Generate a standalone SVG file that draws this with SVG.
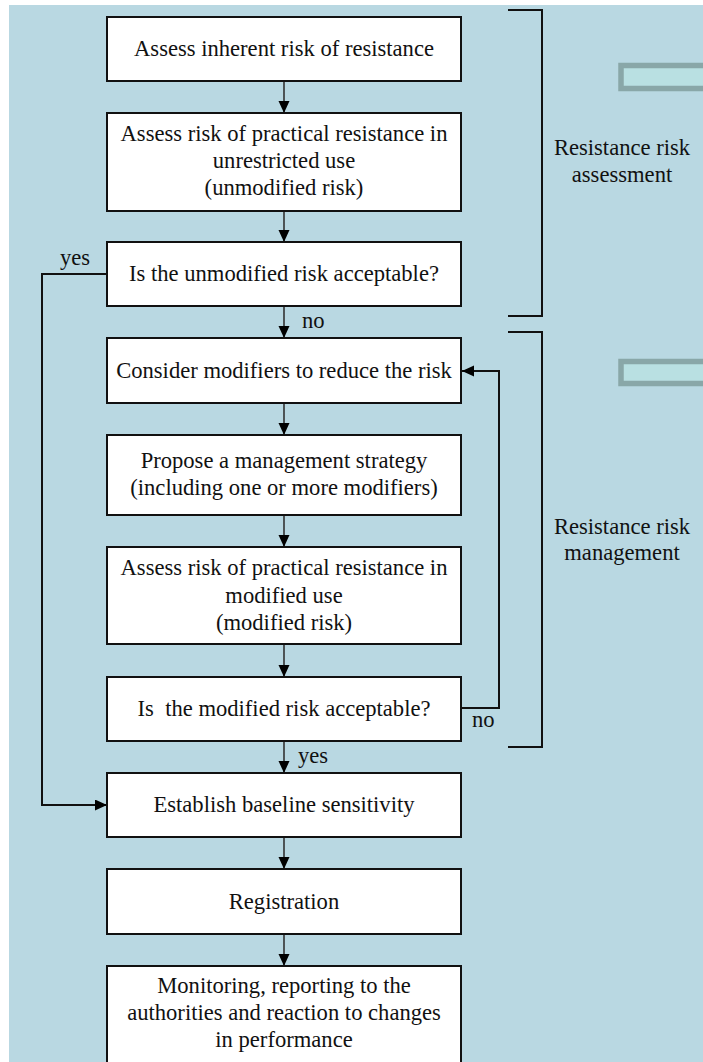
<svg xmlns="http://www.w3.org/2000/svg" width="703" height="1062" viewBox="0 0 703 1062">
<style>
.box{fill:#fff;stroke:#111;stroke-width:2}
.t{font-family:"Liberation Serif","Times New Roman",serif;font-size:22.6px;fill:#111;text-anchor:middle}
.lbl{font-family:"Liberation Serif","Times New Roman",serif;font-size:22.6px;fill:#111}
.v{fill:none;stroke:#333;stroke-width:1.6}
.loop{fill:none;stroke:#111;stroke-width:2}
.br{fill:none;stroke:#111;stroke-width:2}
.tab{fill:#B9E0E2;stroke:#89A7A8;stroke-width:5.5}
</style>
<defs>
<marker id="ah" markerUnits="userSpaceOnUse" markerWidth="14" markerHeight="14" refX="12" refY="5.5" orient="auto">
<path d="M0,0 L12,5.5 L0,11 Z" fill="#000"/>
</marker>
</defs>
<rect x="0" y="0" width="703" height="1062" fill="#fff"/>
<rect x="9" y="5" width="694" height="1057" fill="#B9D8E2"/>

<g id="tab1"><rect class="tab" x="621" y="65.5" width="90" height="23"/></g>
<g id="tab2"><rect class="tab" x="621" y="361.5" width="90" height="22"/></g>

<g id="connectors">
<line class="v" x1="284" y1="81" x2="284" y2="113" marker-end="url(#ah)"/>
<line class="v" x1="284" y1="211" x2="284" y2="242" marker-end="url(#ah)"/>
<line class="v" x1="284" y1="306" x2="284" y2="338" marker-end="url(#ah)"/>
<line class="v" x1="284" y1="403" x2="284" y2="435" marker-end="url(#ah)"/>
<line class="v" x1="284" y1="515" x2="284" y2="547" marker-end="url(#ah)"/>
<line class="v" x1="284" y1="644" x2="284" y2="677" marker-end="url(#ah)"/>
<line class="v" x1="284" y1="741" x2="284" y2="773" marker-end="url(#ah)"/>
<line class="v" x1="284" y1="837" x2="284" y2="869" marker-end="url(#ah)"/>
<line class="v" x1="284" y1="934" x2="284" y2="966" marker-end="url(#ah)"/>
<polyline class="loop" points="107,274 42,274 42,805 107,805" marker-end="url(#ah)"/>
<polyline class="loop" points="461,708 499,708 499,371 462,371" marker-end="url(#ah)"/>
<text class="lbl" x="60" y="265">yes</text>
<text class="lbl" x="302" y="328">no</text>
<text class="lbl" x="472" y="727">no</text>
<text class="lbl" x="298" y="763">yes</text>
</g>

<g id="bracket1"><polyline class="br" points="508,10 542,10 542,316 508,316"/>
<text class="t" x="622" y="155">Resistance risk</text>
<text class="t" x="622" y="182">assessment</text></g>
<g id="bracket2"><polyline class="br" points="508,332 542,332 542,747 508,747"/>
<text class="t" x="622" y="534">Resistance risk</text>
<text class="t" x="622" y="560">management</text></g>

<g id="n1"><rect class="box" x="107" y="17" width="354" height="64"/>
<text class="t" x="284" y="56">Assess inherent risk of resistance</text></g>
<g id="n2"><rect class="box" x="107" y="113" width="354" height="98"/>
<text class="t" x="284" y="141">Assess risk of practical resistance in</text>
<text class="t" x="284" y="168">unrestricted use</text>
<text class="t" x="284" y="195">(unmodified risk)</text></g>
<g id="n3"><rect class="box" x="107" y="242" width="354" height="64"/>
<text class="t" x="284" y="281">Is the unmodified risk acceptable?</text></g>
<g id="n4"><rect class="box" x="107" y="338" width="354" height="65"/>
<text class="t" x="284" y="378">Consider modifiers to reduce the risk</text></g>
<g id="n5"><rect class="box" x="107" y="435" width="354" height="80"/>
<text class="t" x="284" y="468">Propose a management strategy</text>
<text class="t" x="284" y="495">(including one or more modifiers)</text></g>
<g id="n6"><rect class="box" x="107" y="547" width="354" height="97"/>
<text class="t" x="284" y="575">Assess risk of practical resistance in</text>
<text class="t" x="284" y="603">modified use</text>
<text class="t" x="284" y="630">(modified risk)</text></g>
<g id="n7"><rect class="box" x="107" y="677" width="354" height="64"/>
<text class="t" x="284" y="716" xml:space="preserve">Is  the modified risk acceptable?</text></g>
<g id="n8"><rect class="box" x="107" y="773" width="354" height="64"/>
<text class="t" x="284" y="812">Establish baseline sensitivity</text></g>
<g id="n9"><rect class="box" x="107" y="869" width="354" height="65"/>
<text class="t" x="284" y="909">Registration</text></g>
<g id="n10"><rect class="box" x="107" y="966" width="354" height="110"/>
<text class="t" x="284" y="993">Monitoring, reporting to the</text>
<text class="t" x="284" y="1020">authorities and reaction to changes</text>
<text class="t" x="284" y="1047">in performance</text></g>
</svg>
